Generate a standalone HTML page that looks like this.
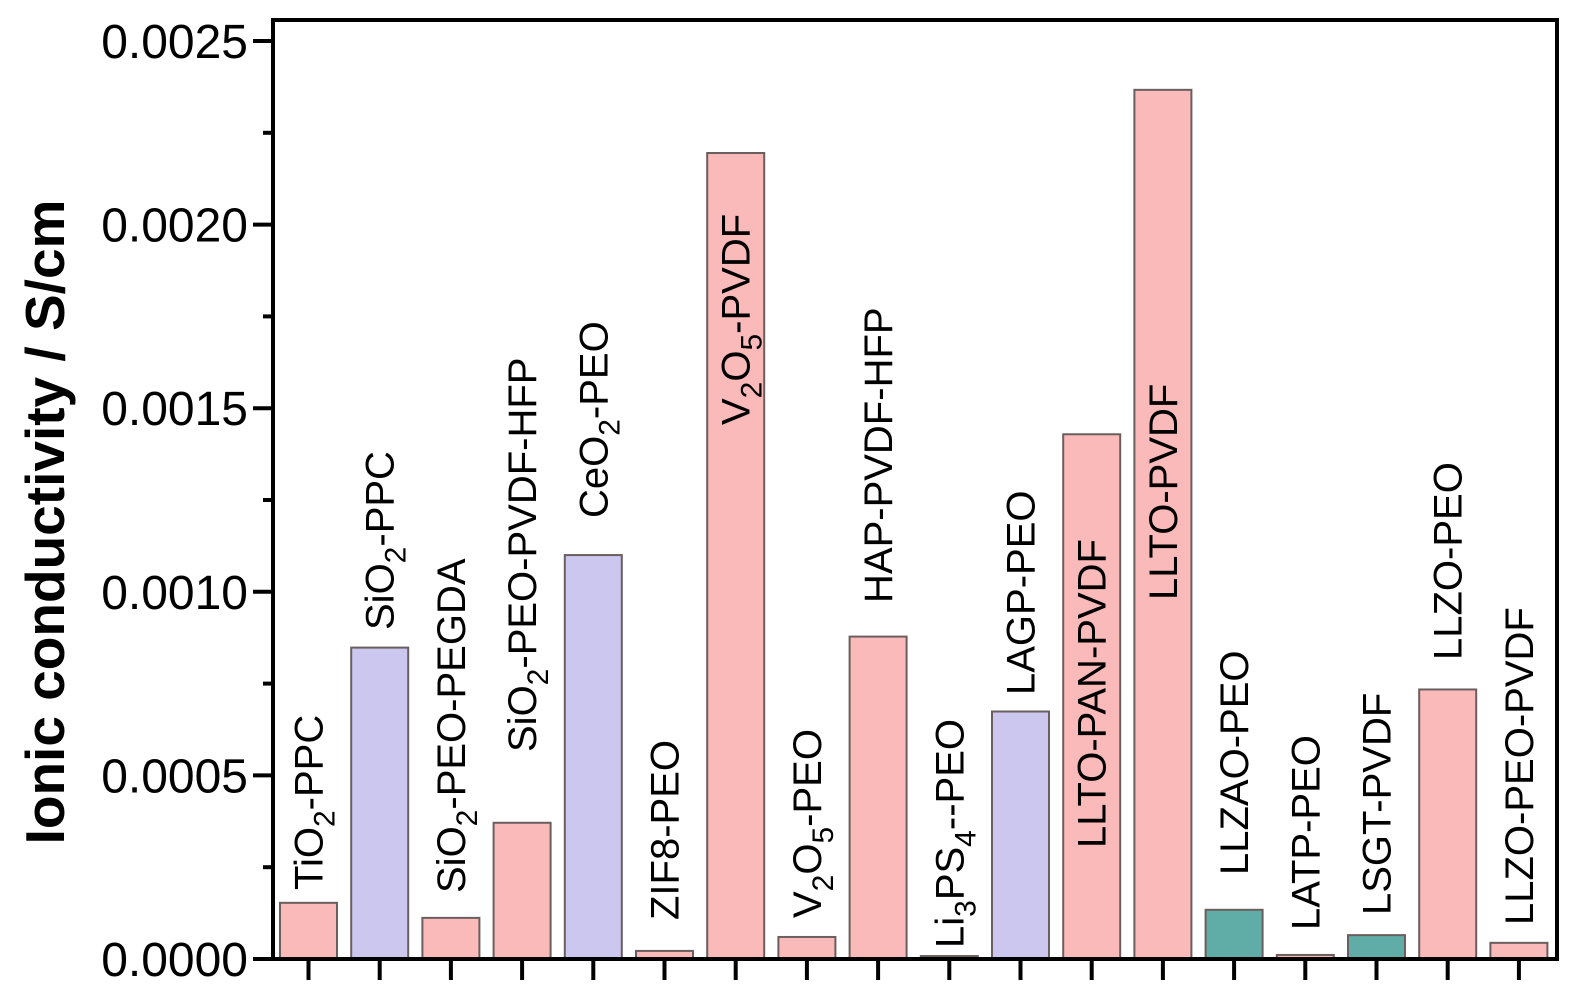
<!DOCTYPE html>
<html><head><meta charset="utf-8"><style>
html,body{margin:0;padding:0;background:#fff;}
svg{display:block;font-family:"Liberation Sans",Arial,sans-serif;}
</style></head><body>
<svg id="chart" width="1574" height="992" viewBox="0 0 1574 992">
<g id="bars"></g>
<g id="labels"></g>
<g id="axes"></g>
<text transform="translate(64,522) rotate(-90)" text-anchor="middle" font-size="55" font-weight="bold">Ionic conductivity / S/cm</text>
</svg>
<script>
const categories = [
  [["TiO"],["2","sub"],["-PPC"]],
  [["SiO"],["2","sub"],["-PPC"]],
  [["SiO"],["2","sub"],["-PEO-PEGDA"]],
  [["SiO"],["2","sub"],["-PEO-PVDF-HFP"]],
  [["CeO"],["2","sub"],["-PEO"]],
  [["ZIF8-PEO"]],
  [["V"],["2","sub"],["O"],["5","sub"],["-PVDF"]],
  [["V"],["2","sub"],["O"],["5","sub"],["-PEO"]],
  [["HAP-PVDF-HFP"]],
  [["Li"],["3","sub"],["PS"],["4","sub"],["--PEO"]],
  [["LAGP-PEO"]],
  [["LLTO-PAN-PVDF"]],
  [["LLTO-PVDF"]],
  [["LLZAO-PEO"]],
  [["LATP-PEO"]],
  [["LSGT-PVDF"]],
  [["LLZO-PEO"]],
  [["LLZO-PEO-PVDF"]]
];
const values = [0.000153,0.000848,0.000112,0.000371,0.0011,0.000022,0.002195,0.00006,0.000878,0.000008,0.000674,0.001429,0.002367,0.000134,0.000011,0.000065,0.000734,0.000044];
const groups = ["p","l","p","p","l","p","p","p","p","p","l","p","p","t","p","t","p","p"];
const labelBase = [890,630,893,752,518,920,425,918,603,948,695,848,600,875,930,915,660,925];
const yTicks = [0,0.0005,0.001,0.0015,0.002,0.0025];
const yTickLabels = ["0.0000","0.0005","0.0010","0.0015","0.0020","0.0025"];

const NS="http://www.w3.org/2000/svg";
const X0=273, X1=1557, Y0=959, YTOP=20;
const yScale = v => Y0 - v/0.0025*(Y0-41);
const xScale = i => 308.5 + i*71.2;
const BW=57;
const colors={p:"#fbbaba",l:"#cbc7ef",t:"#5fada6"};
function mk(t,a,p){const e=document.createElementNS(NS,t);for(const k in a)e.setAttribute(k,a[k]);p.appendChild(e);return e;}

const gb=document.getElementById('bars'), gl=document.getElementById('labels'), ga=document.getElementById('axes');
values.forEach((v,i)=>{
  const r=mk('rect',{x:xScale(i)-BW/2,y:yScale(v),width:BW,height:Y0-yScale(v),fill:colors[groups[i]],stroke:"#6a5e5e","stroke-width":2},gb);
  
  
  const t=mk('text',{transform:`translate(${xScale(i)+14},${labelBase[i]}) rotate(-90)`,"font-size":40},gl);
  
  
  let prevSub=false;
  categories[i].forEach(seg=>{
    const s=mk('tspan',{},t);
    s.textContent=seg[0];
    if(seg[1]==="sub"){s.setAttribute('font-size','30');s.setAttribute('dy','12');prevSub=true;}
    else if(prevSub){s.setAttribute('dy','-12');prevSub=false;}
  });
});
const fr=mk('rect',{x:X0,y:YTOP,width:X1-X0,height:Y0-YTOP,fill:"none",stroke:"#000","stroke-width":4},ga);


yTicks.forEach((v,i)=>{
  const y=yScale(v);
  mk('line',{x1:253,x2:X0,y1:y,y2:y,stroke:"#000","stroke-width":4},ga);
  const t=mk('text',{x:248,y:y+17,"text-anchor":"end","font-size":48},ga);
  t.textContent=yTickLabels[i];
  
  
  if(i<yTicks.length-1){const ym=yScale(v+0.00025);mk('line',{x1:263,x2:X0,y1:ym,y2:ym,stroke:"#000","stroke-width":4},ga);}
});
values.forEach((v,i)=>{
  const x=xScale(i);
  const l=mk('line',{x1:x,x2:x,y1:Y0,y2:980,stroke:"#000","stroke-width":4},ga);
  
  
});
</script>
</body></html>
